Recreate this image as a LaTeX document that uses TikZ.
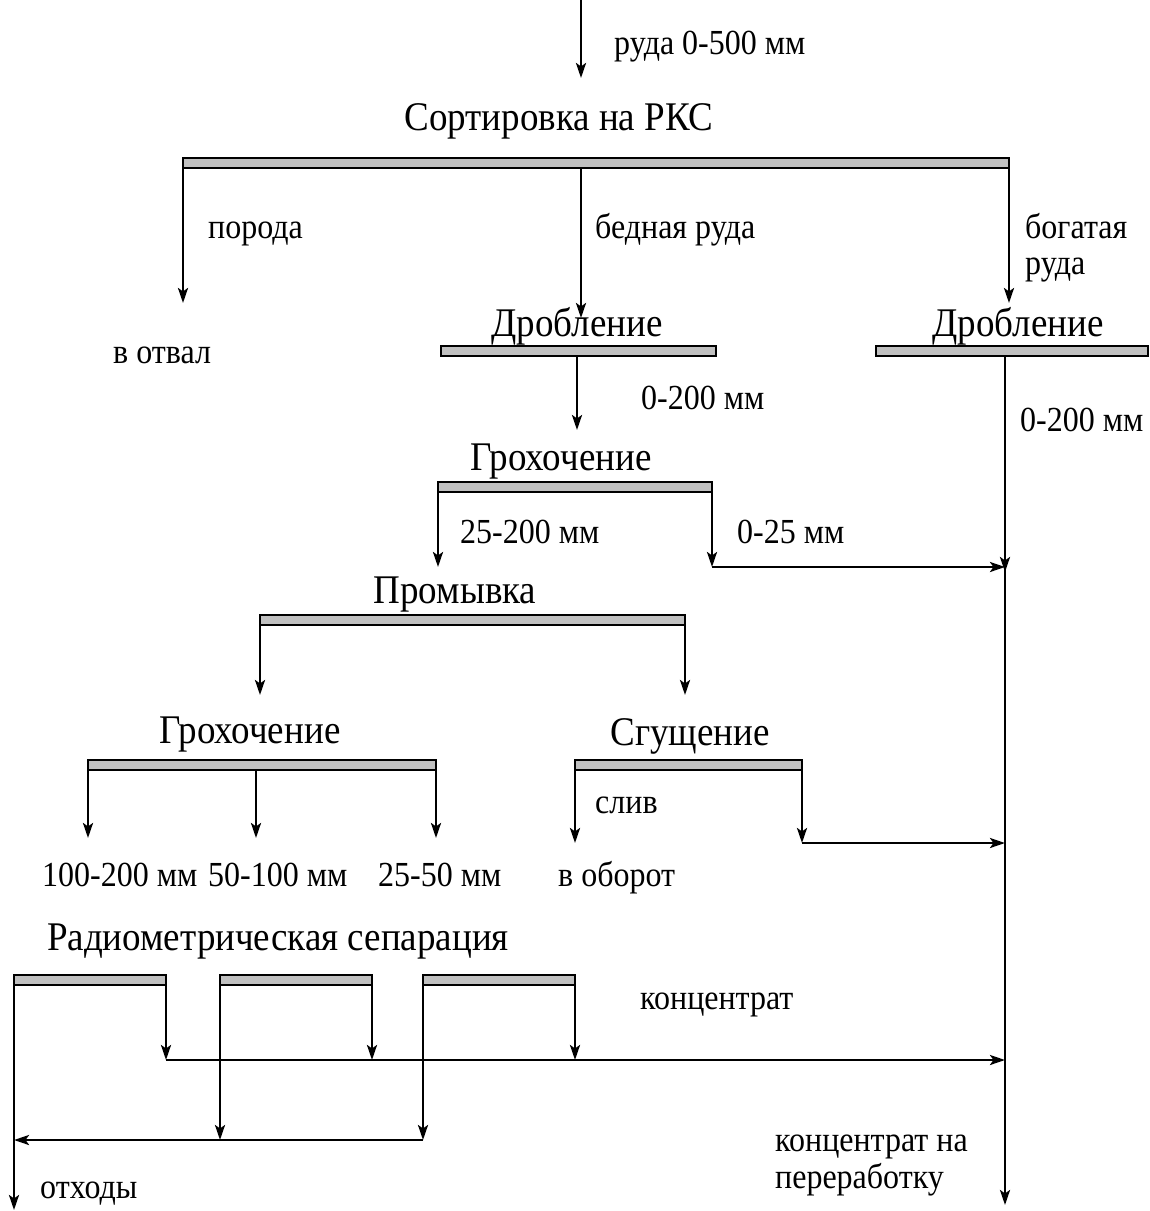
\documentclass[tikz,border=0pt]{standalone}
\usepackage{fontspec}
\setmainfont{Liberation Serif}
\usetikzlibrary{arrows.meta}
\definecolor{barfill}{RGB}{192,192,192}
\newcommand{\tallt}[1]{\scalebox{1}[1.1]{#1}}
\begin{document}
\begin{tikzpicture}[x=1pt,y=-1pt,
  bar/.style={draw=black, fill=barfill, line width=2pt, minimum height=10pt, inner sep=0pt, outer sep=0pt, anchor=north west},
  flow/.style={line width=2.6pt, -{Stealth[length=15pt,width=10pt,inset=3.5pt]}},
  link/.style={line width=2.6pt},
  lbl/.style={font=\fontsize{32}{37}\selectfont, anchor=base west, inner sep=0pt},
  head/.style={font=\fontsize{37}{42}\selectfont, anchor=base, inner sep=0pt}]
\useasboundingbox (0,0) rectangle (1150,1211);

% ---- bars
\node[bar, minimum width=826pt] (sortbar) at (183,158) {};
\node[bar, minimum width=275pt] (drob1) at (441,346) {};
\node[bar, minimum width=272pt] (drob2) at (876,346) {};
\node[bar, minimum width=274pt] (groh1) at (438,482) {};
\node[bar, minimum width=425pt] (prom) at (260,615) {};
\node[bar, minimum width=348pt] (groh2) at (88,760) {};
\node[bar, minimum width=227pt] (sgus) at (575,760) {};
\node[bar, minimum width=152pt] (rad1) at (14,975) {};
\node[bar, minimum width=152pt] (rad2) at (220,975) {};
\node[bar, minimum width=152pt] (rad3) at (423,975) {};

% ---- headings
\node[head] (tsort) at (559,130) {\tallt{Сортировка на РКС}};
\node[head] (tdrob1) at (577,336) {\tallt{Дробление}};
\node[head] (tdrob2) at (1018,336) {\tallt{Дробление}};
\node[head] (tgroh1) at (561,470) {\tallt{Грохочение}};
\node[head] (tprom) at (455,603) {\tallt{Промывка}};
\node[head] (tgroh2) at (250,743) {\tallt{Грохочение}};
\node[head] (tsgus) at (690,745) {\tallt{Сгущение}};
\node[head] (trad) at (278,950) {\tallt{Радиометрическая сепарация}};

% ---- labels
\node[lbl] (lore) at (614,54) {\tallt{руда 0-500 мм}};
\node[lbl] (lpor) at (208,238) {\tallt{порода}};
\node[lbl] (lbed) at (595,238) {\tallt{бедная руда}};
\node[lbl] (lbog) at (1025,238) {\tallt{богатая}};
\node[lbl] (lbog2) at (1025,274) {\tallt{руда}};
\node[lbl] (lotv) at (113,363) {\tallt{в отвал}};
\node[lbl] (l200a) at (641,409) {\tallt{0-200 мм}};
\node[lbl] (l200b) at (1020,431) {\tallt{0-200 мм}};
\node[lbl] (l25200) at (460,543) {\tallt{25-200 мм}};
\node[lbl] (l025) at (737,543) {\tallt{0-25 мм}};
\node[lbl] (lsliv) at (595,813) {\tallt{слив}};
\node[lbl] (l100) at (42,886) {\tallt{100-200 мм}};
\node[lbl] (l50) at (208,886) {\tallt{50-100 мм}};
\node[lbl] (l25) at (378,886) {\tallt{25-50 мм}};
\node[lbl] (lobor) at (558,886) {\tallt{в оборот}};
\node[lbl] (lconc) at (640,1009) {\tallt{концентрат}};
\node[lbl] (lconc2) at (775,1151) {\tallt{концентрат на}};
\node[lbl] (lpere) at (775,1188) {\tallt{переработку}};
\node[lbl] (lotx) at (40,1198) {\tallt{отходы}};

% ---- coordinates
\coordinate (in) at (581,0);
\coordinate (inEnd) at (581,78);
\coordinate (otval) at (183,303);
\coordinate (poor) at (581,318);
\coordinate (rich) at (1009,303);
\coordinate (d1out) at (577,430);
\coordinate (g1a) at (438,567);
\coordinate (g1b) at (712,567);
\coordinate (j1) at (1005,567);
\coordinate (p1) at (260,695);
\coordinate (p2) at (685,695);
\coordinate (g2a) at (88,838);
\coordinate (g2b) at (256,838);
\coordinate (g2c) at (436,838);
\coordinate (s1) at (575,843);
\coordinate (s2) at (802,843);
\coordinate (j2) at (1005,843);
\coordinate (c1) at (166,1060);
\coordinate (c2) at (372,1060);
\coordinate (c3) at (575,1060);
\coordinate (j3) at (1005,1060);
\coordinate (w2) at (220,1140);
\coordinate (w3) at (423,1140);
\coordinate (w0) at (14,1140);
\coordinate (wEnd) at (14,1210);
\coordinate (fin) at (1005,1205);

% ---- connectors
\draw[flow] (in) -- (inEnd);
\draw[flow] (sortbar.south west) -- (otval);
\draw[flow] (poor |- sortbar.south) -- (poor);
\draw[flow] (sortbar.south east) -- (rich);
\draw[flow] (d1out |- drob1.south) -- (d1out);
% right main line
\draw[link] (j1 |- drob2.south) -- (j3);
\draw[flow] (j1 |- drob2.south) -- ([yshift=-5pt]j1);
\draw[flow] (j3) -- (fin);
% grohochenie 1
\draw[flow] (groh1.south west) -- (g1a);
\draw[flow] (groh1.south east) -- (g1b);
\draw[flow] (g1b) -- (j1);
% promyvka
\draw[flow] (prom.south west) -- (p1);
\draw[flow] (prom.south east) -- (p2);
% grohochenie 2
\draw[flow] (groh2.south west) -- (g2a);
\draw[flow] (g2b |- groh2.south) -- (g2b);
\draw[flow] (groh2.south east) -- (g2c);
% sgushchenie
\draw[flow] (sgus.south west) -- (s1);
\draw[flow] (sgus.south east) -- (s2);
\draw[flow] (s2) -- (j2);
% radiometric separation: concentrate
\draw[flow] (rad1.south east) -- (c1);
\draw[flow] (rad2.south east) -- (c2);
\draw[flow] (rad3.south east) -- (c3);
\draw[flow] (c1) -- (j3);
% radiometric separation: waste
\draw[flow] (rad2.south west) -- (w2);
\draw[flow] (rad3.south west) -- (w3);
\draw[flow] (w3) -- (w0);
\draw[flow] (rad1.south west) -- (wEnd);
\end{tikzpicture}
\end{document}
